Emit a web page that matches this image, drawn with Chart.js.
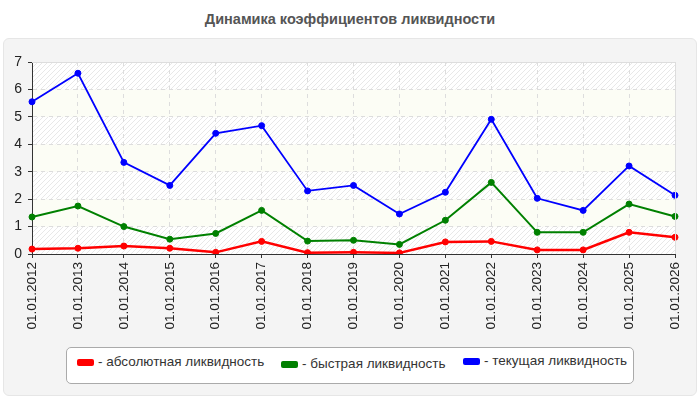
<!DOCTYPE html>
<html>
<head>
<meta charset="utf-8">
<script src="https://cdn.jsdelivr.net/npm/chart.js@4"></script>
<style>
    body { margin: 0; width: 700px; height: 400px; background: #fff; font-family: Arial, "Liberation Sans", sans-serif; position: relative; overflow: hidden; }
    #title { position: absolute; left: 0; top: 11px; width: 700px; text-align: center; font-weight: bold; font-size: 14.5px; color: #555; }
    #panel { position: absolute; left: 3px; top: 38px; width: 692px; height: 356px; background: #f4f4f4; border: 1px solid #e6e6e6; border-radius: 6px; }
    #chart-wrap { position: absolute; left: 0; top: 0; width: 700px; height: 400px; }
    #legend { position: absolute; left: 66px; top: 347px; width: 566px; height: 35px; background: #fff; border: 1px solid #aaa; border-radius: 5px; }
    .item { position: absolute; font-size: 13.5px; line-height: 16px; color: #333; white-space: nowrap; display: flex; align-items: center; }
    .sw { display: inline-block; width: 17px; height: 7px; border-radius: 2px; margin-right: 4px; }
</style>
</head>
<body>
<div id="title">Динамика коэффициентов ликвидности</div>
<div id="panel"></div>
<div id="chart-wrap"><canvas id="chart" width="700" height="400"></canvas></div>
<div id="legend"></div>
<script>
// Labels on the X axis
const labels = ['01.01.2012', '01.01.2013', '01.01.2014', '01.01.2015', '01.01.2016',
    '01.01.2017', '01.01.2018', '01.01.2019', '01.01.2020', '01.01.2021',
    '01.01.2022', '01.01.2023', '01.01.2024', '01.01.2025', '01.01.2026'];

// Series values
const absolute = [0.18, 0.21, 0.29, 0.21, 0.06, 0.46, 0.05, 0.06, 0.04, 0.44, 0.46, 0.15, 0.15, 0.79, 0.61];
const quick = [1.35, 1.75, 1.00, 0.54, 0.75, 1.59, 0.47, 0.50, 0.35, 1.23, 2.61, 0.79, 0.79, 1.82, 1.37];
const current = [5.55, 6.59, 3.34, 2.50, 4.40, 4.68, 2.30, 2.50, 1.46, 2.25, 4.91, 2.03, 1.59, 3.21, 2.14];

const seriesNames = ['- абсолютная ликвидность', '- быстрая ликвидность', '- текущая ликвидность'];
const seriesColors = ['#ff0000', '#008000', '#0000ff'];
const lineWidths = [2.5, 2, 1.8];

// Legend drawn as html
const legendPos = [[10, 6], [214, 8], [396, 5]];
const legend = document.getElementById('legend');
seriesNames.forEach((name, i) => {
    const el = document.createElement('div');
    el.className = 'item';
    el.style.left = legendPos[i][0] + 'px';
    el.style.top = legendPos[i][1] + 'px';
    el.innerHTML = '<span class="sw" style="background:' + seriesColors[i] + '"></span>' + name;
    legend.appendChild(el);
});

// Hatch pattern for every other band
const pc = document.createElement('canvas');
pc.width = 5; pc.height = 5;
const pctx = pc.getContext('2d');
pctx.fillStyle = '#ffffff';
pctx.fillRect(0, 0, 5, 5);
pctx.strokeStyle = '#e8e8e8';
pctx.lineWidth = 1;
pctx.beginPath();
pctx.moveTo(0, 5); pctx.lineTo(5, 0);
pctx.moveTo(-1, 1); pctx.lineTo(1, -1);
pctx.moveTo(4, 6); pctx.lineTo(6, 4);
pctx.stroke();

const bandsPlugin = {
    id: 'bands',
    beforeDraw(chart) {
        const ctx = chart.ctx;
        const area = chart.chartArea;
        const y = chart.scales.y;
        const pattern = ctx.createPattern(pc, 'repeat');
        ctx.save();
        for (let v = 0; v < 7; v++) {
            const top = y.getPixelForValue(v + 1);
            const bottom = y.getPixelForValue(v);
            ctx.fillStyle = v % 2 === 0 ? pattern : '#fcfdf5';
            ctx.fillRect(area.left, top, area.right - area.left, bottom - top);
        }
        ctx.restore();
    },
    afterDraw(chart) {
        // top and right border of the plot
        const ctx = chart.ctx;
        const area = chart.chartArea;
        ctx.save();
        ctx.strokeStyle = '#dddddd';
        ctx.lineWidth = 1;
        ctx.beginPath();
        ctx.moveTo(area.left, area.top + 0.5);
        ctx.lineTo(area.right + 0.5, area.top + 0.5);
        ctx.lineTo(area.right + 0.5, area.bottom);
        ctx.stroke();
        ctx.restore();
    }
};

const ctx = document.getElementById('chart').getContext('2d');

const chart = new Chart(ctx, {
    type: 'line',
    data: {
        labels: labels,
        datasets: [absolute, quick, current].map((d, i) => ({
            label: seriesNames[i],
            data: d,
            borderColor: seriesColors[i],
            backgroundColor: seriesColors[i],
            borderWidth: lineWidths[i],
            pointRadius: 3,
            pointBorderWidth: 1,
            pointHoverRadius: 3,
            tension: 0
        }))
    },
    options: {
        animation: false,
        responsive: false,
        layout: { padding: { top: 62, right: 25, left: 0, bottom: 0 } },
        plugins: {
            legend: { display: false },
            tooltip: { enabled: false }
        },
        scales: {
            x: {
                offset: false,
                afterFit: (s) => { s.height = 146; },
                grid: {
                    color: '#dddddd',
                    tickLength: 4,
                    tickColor: '#333333'
                },
                border: { color: '#333333', dash: [4, 4] },
                ticks: {
                    minRotation: 90,
                    maxRotation: 90,
                    autoSkip: false,
                    padding: 4,
                    color: '#222222',
                    font: { family: 'Arial, "Liberation Sans"', size: 13.5 }
                }
            },
            y: {
                min: 0,
                max: 7,
                afterFit: (s) => { s.width = 32; },
                grid: {
                    color: '#dddddd',
                    tickLength: 4,
                    tickColor: '#333333'
                },
                border: { color: '#333333', dash: [4, 4] },
                ticks: {
                    stepSize: 1,
                    padding: 6,
                    color: '#222222',
                    font: { family: 'Arial, "Liberation Sans"', size: 14 }
                }
            }
        }
    },
    plugins: [bandsPlugin]
});
</script>
</body>
</html>
